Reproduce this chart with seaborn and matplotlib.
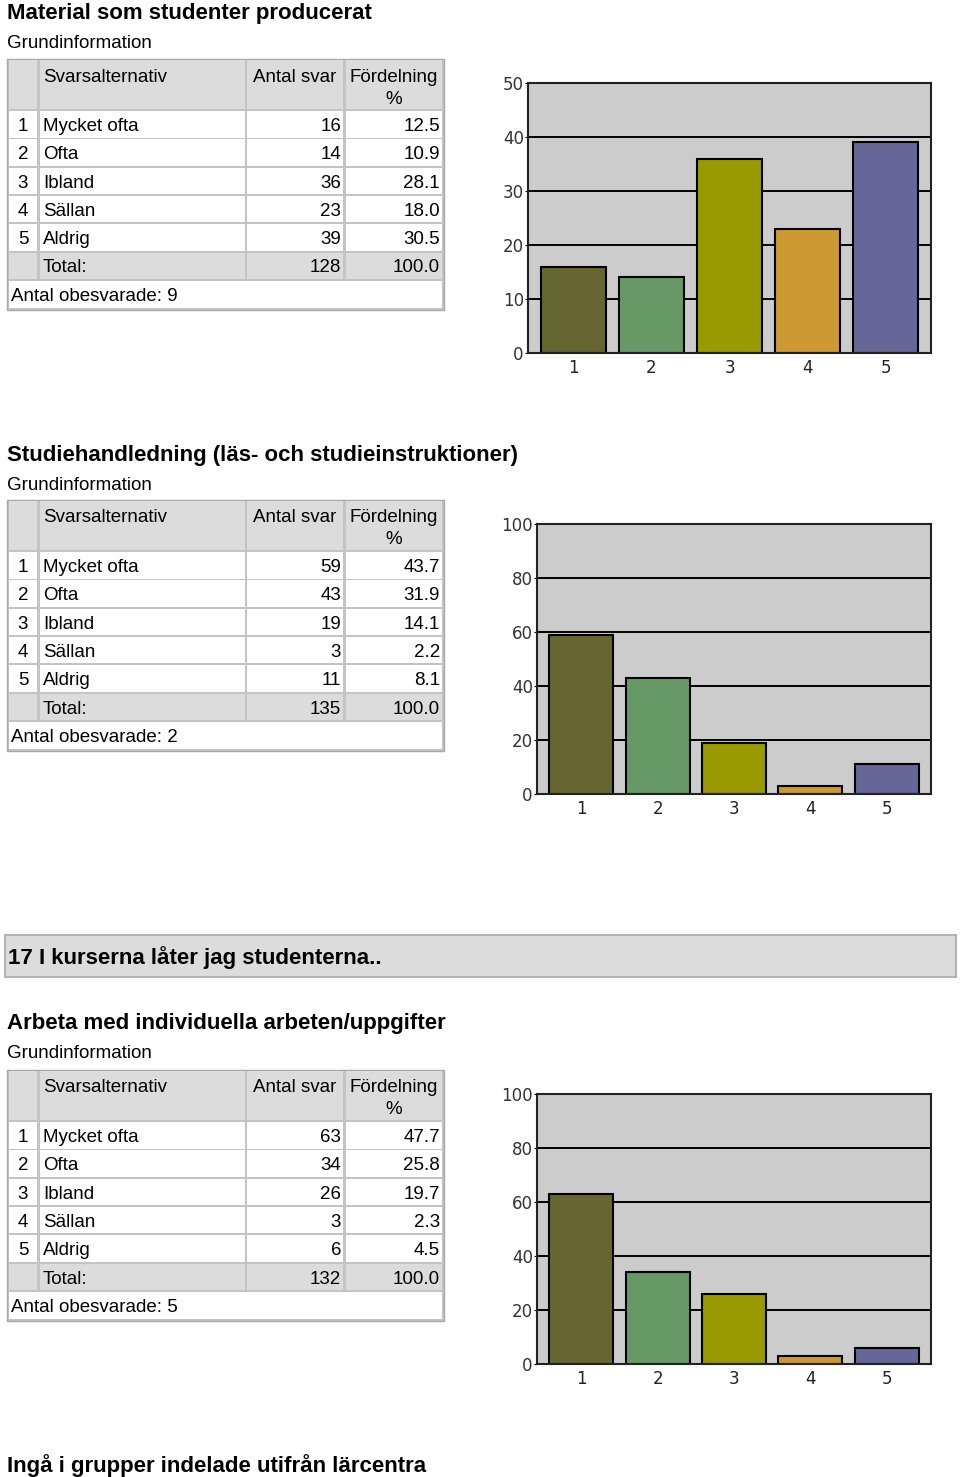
import matplotlib
matplotlib.use("Agg")
import matplotlib.pyplot as plt
from matplotlib.patches import Rectangle
import seaborn as sns

# Data
alternatives = ["Mycket ofta", "Ofta", "Ibland", "Sällan", "Aldrig"]
alt_numbers = ["1", "2", "3", "4", "5"]
bar_colors = ["#666633", "#669966", "#999900", "#cc9933", "#666699"]

titles = ["Material som studenter producerat",
          "Studiehandledning (läs- och studieinstruktioner)",
          "Arbeta med individuella arbeten/uppgifter"]
counts_1 = [16, 14, 36, 23, 39]
pct_1 = [12.5, 10.9, 28.1, 18.0, 30.5]
counts_2 = [59, 43, 19, 3, 11]
pct_2 = [43.7, 31.9, 14.1, 2.2, 8.1]
counts_3 = [63, 34, 26, 3, 6]
pct_3 = [47.7, 25.8, 19.7, 2.3, 4.5]
totals = [128, 135, 132]
unanswered = [9, 2, 5]
y_max = [50, 100, 100]
y_step = [10, 20, 20]

group_heading = "17 I kurserna låter jag studenterna.."
next_title = "Ingå i grupper indelade utifrån lärcentra"

W, H = 960, 1477
plt.rcParams['font.family'] = ['Liberation Sans', 'DejaVu Sans']

fig = plt.figure(figsize=(W / 100, H / 100), dpi=100)
page = fig.add_axes([0, 0, 1, 1])
page.set_xlim(0, W)
page.set_ylim(H, 0)
page.axis('off')

DY = 2  # text baseline nudge


def px_rect(x0, y0, x1, y1):
    return [x0 / W, 1 - y1 / H, (x1 - x0) / W, (y1 - y0) / H]


def cell(x0, y0, x1, y1, fill):
    page.add_patch(Rectangle((x0, y0), x1 - x0, y1 - y0, facecolor=fill, edgecolor='none'))


def txt(x, y, s, ha='left', **kw):
    page.text(x, y + DY, s, fontsize=kw.pop('fontsize', 13.5), va='center', ha=ha, **kw)


def draw_table(top, counts, pcts, total, missing):
    # outer frame
    page.add_patch(Rectangle((7, top), 437, 251, facecolor='#c4c4c4', edgecolor='#a8a8a8', lw=1))
    cols = [(9, 37), (40, 245), (247, 343), (346, 442)]
    head_fill = '#dcdcdc'
    # header row
    for x0, x1 in cols:
        cell(x0, top + 1, x1, top + 50, head_fill)
    txt(43, top + 16, "Svarsalternativ")
    txt(295, top + 16, "Antal svar", ha='center')
    txt(394, top + 16, "Fördelning", ha='center')
    txt(394, top + 38, "%", ha='center')
    step = 28.3
    for i in range(5):
        y0 = top + 52 + i * step
        for x0, x1 in cols:
            cell(x0, y0, x1, y0 + 26.5, 'white')
        yc = y0 + 13.5
        txt(23, yc, alt_numbers[i], ha='center')
        txt(43, yc, alternatives[i])
        txt(341, yc, str(counts[i]), ha='right')
        txt(440, yc, f"{pcts[i]:.1f}", ha='right')
    y0 = top + 52 + 5 * step
    for x0, x1 in cols:
        cell(x0, y0, x1, y0 + 26.5, head_fill)
    yc = y0 + 13.5
    txt(43, yc, "Total:")
    txt(341, yc, str(total), ha='right')
    txt(440, yc, "100.0", ha='right')
    y0 = top + 52 + 6 * step
    cell(9, y0, 442, y0 + 27, 'white')
    txt(11, y0 + 13.5, f"Antal obesvarade: {missing}")


def draw_chart(rect, counts, ymax, ystep):
    ax = fig.add_axes(px_rect(*rect))
    ax.set_facecolor('#cccccc')
    ax.set_axisbelow(True)
    ax.yaxis.grid(True, color='black', lw=1.4)
    sns.barplot(x=alt_numbers, y=counts, hue=alt_numbers, palette=bar_colors, legend=False,
                width=0.835, saturation=1, edgecolor='black', linewidth=1.5, ax=ax)
    ax.set_xlim(-0.58, 4.58)
    ax.set_ylim(0, ymax)
    ax.set_yticks(range(0, ymax + 1, ystep))
    ax.set_xlabel('')
    ax.set_ylabel('')
    for s in ax.spines.values():
        s.set_color('#222222')
        s.set_linewidth(1.5)
    ax.tick_params(axis='y', length=2, pad=1, labelsize=12, labelcolor='#333333')
    ax.tick_params(axis='x', length=0, pad=4, labelsize=12, labelcolor='#222222')
    for lab in ax.get_xticklabels() + ax.get_yticklabels():
        lab.set_fontfamily('DejaVu Sans')
    return ax


all_counts = [counts_1, counts_2, counts_3]
all_pcts = [pct_1, pct_2, pct_3]
title_y = [12, 453, 1022]
table_top = [59, 500, 1070]
chart_rects = [(528, 83, 931, 353), (537, 524, 931, 794), (537, 1094, 931, 1364)]

for k in range(3):
    txt(7, title_y[k], titles[k], fontsize=16, fontweight='bold')
    txt(7, title_y[k] + 30, "Grundinformation")
    draw_table(table_top[k], all_counts[k], all_pcts[k], totals[k], unanswered[k])
    draw_chart(chart_rects[k], all_counts[k], y_max[k], y_step[k])

# group heading band
page.add_patch(Rectangle((5, 935), 951, 42, facecolor='#dcdcdc', edgecolor='#b4b4b4', lw=1.5))
txt(8, 956, group_heading, fontsize=16, fontweight='bold')

txt(7, 1464, next_title, fontsize=16, fontweight='bold')

fig.savefig("out.png", dpi=100)
